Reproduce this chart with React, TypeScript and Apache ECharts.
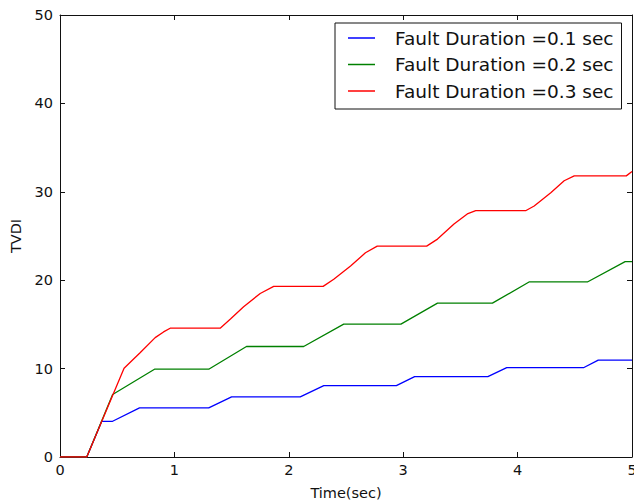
import React, { useEffect, useRef } from "react";
import * as echarts from "echarts";

const seriesNames = [
  "Fault Duration =0.1 sec",
  "Fault Duration =0.2 sec",
  "Fault Duration =0.3 sec",
];

const blueT = [0, 0.234, 0.365, 0.46, 0.695, 1.3, 1.5, 2.1, 2.306, 2.94, 3.1, 3.74, 3.905, 4.58, 4.705, 5.0];
const blueV = [0, 0, 4.04, 4.04, 5.55, 5.55, 6.8, 6.8, 8.08, 8.08, 9.1, 9.1, 10.12, 10.12, 10.95, 10.95];

const greenT = [0, 0.234, 0.46, 0.826, 1.3, 1.63, 2.13, 2.48, 2.98, 3.3, 3.78, 4.1, 4.61, 4.94, 5.0];
const greenV = [0, 0, 7.07, 9.93, 9.93, 12.5, 12.5, 15.03, 15.03, 17.4, 17.4, 19.8, 19.8, 22.1, 22.1];

const redT = [0, 0.234, 0.56, 0.7, 0.832, 0.905, 0.963, 1.4, 1.49, 1.605, 1.75, 1.868, 2.3, 2.393, 2.54, 2.67, 2.773, 3.205, 3.3, 3.444, 3.56, 3.634, 4.07, 4.145, 4.29, 4.407, 4.495, 4.95, 5.0];
const redV = [0, 0, 10.04, 11.8, 13.5, 14.15, 14.57, 14.57, 15.6, 17.0, 18.5, 19.3, 19.3, 20.1, 21.6, 23.1, 23.85, 23.85, 24.65, 26.35, 27.5, 27.86, 27.86, 28.4, 29.9, 31.25, 31.8, 31.8, 32.3];

const colors = ["#0000ff", "#008000", "#ff0000"];

const xMin = 0, xMax = 5, xInterval = 1;
const yMin = 0, yMax = 50, yInterval = 10;

const zip = (t: number[], v: number[]) => t.map((x, i) => [x, v[i]]);

const FONT = "DejaVu Sans";

export default function App() {
  const ref = useRef<HTMLDivElement>(null);
  useEffect(() => {
    document.body.style.margin = "0";
    const chart = echarts.init(ref.current!, undefined, { renderer: "svg" });
    const axisLine = { show: true, onZero: false, lineStyle: { color: "#111", width: 1 } };
    const tick = { show: true, inside: true, length: 5, lineStyle: { color: "#111", width: 1 } };
    const data = [zip(blueT, blueV), zip(greenT, greenV), zip(redT, redV)];
    chart.setOption({
      animation: false,
      backgroundColor: "#fff",
      grid: { left: 60, top: 15, width: 572, height: 442, containLabel: false, outerBoundsMode: "none" },
      legend: {
        orient: "vertical",
        left: 335,
        top: 23,
        padding: [4, 8, 7, 13],
        icon: "rect",
        itemWidth: 27,
        itemHeight: 1.5,
        itemGap: 4.5,
        borderColor: "#111",
        borderWidth: 1,
        borderRadius: 0,
        backgroundColor: "#fff",
        textStyle: { fontFamily: FONT, fontSize: 18.5, color: "#111", lineHeight: 22, padding: [0, 0, 0, 15] },
        data: seriesNames,
      },
      xAxis: [
        {
          type: "value",
          min: xMin,
          max: xMax,
          interval: xInterval,
          position: "bottom",
          name: "Time(sec)",
          nameLocation: "middle",
          nameGap: 28,
          nameTextStyle: { fontFamily: FONT, fontSize: 14.5, color: "#111" },
          axisLine,
          axisTick: tick,
          axisLabel: { fontFamily: FONT, fontSize: 14.5, color: "#111", margin: 5.5 },
          splitLine: { show: false },
        },
        {
          type: "value",
          min: xMin,
          max: xMax,
          interval: xInterval,
          position: "top",
          axisLine,
          axisTick: tick,
          axisLabel: { show: false },
          splitLine: { show: false },
        },
      ],
      yAxis: [
        {
          type: "value",
          min: yMin,
          max: yMax,
          interval: yInterval,
          position: "left",
          name: "TVDI",
          nameLocation: "middle",
          nameGap: 34,
          nameTextStyle: { fontFamily: FONT, fontSize: 14.5, color: "#111" },
          axisLine,
          axisTick: tick,
          axisLabel: { fontFamily: FONT, fontSize: 14.5, color: "#111", margin: 7 },
          splitLine: { show: false },
        },
        {
          type: "value",
          min: yMin,
          max: yMax,
          interval: yInterval,
          position: "right",
          axisLine,
          axisTick: tick,
          axisLabel: { show: false },
          splitLine: { show: false },
        },
      ],
      series: seriesNames.map((name, i) => ({
        name,
        type: "line",
        data: data[i],
        symbol: "none",
        color: colors[i],
        lineStyle: { color: colors[i], width: 1.3 },
        clip: true,
      })),
    });
    return () => chart.dispose();
  }, []);
  return <div ref={ref} style={{ width: 634, height: 502 }} />;
}
